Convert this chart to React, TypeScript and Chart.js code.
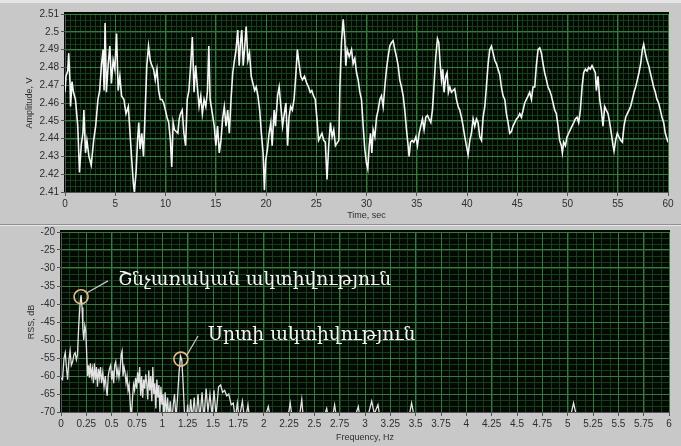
import React, { useEffect, useRef } from "react";
import { Chart, registerables } from "chart.js";

Chart.register(...registerables);

// ---------- data ----------
const timeTicks = [0, 5, 10, 15, 20, 25, 30, 35, 40, 45, 50, 55, 60];
const voltTicks = [2.41, 2.42, 2.43, 2.44, 2.45, 2.46, 2.47, 2.48, 2.49, 2.5, 2.51];
const freqTicks = [0, 0.25, 0.5, 0.75, 1, 1.25, 1.5, 1.75, 2, 2.25, 2.5, 2.75, 3, 3.25, 3.5, 3.75, 4, 4.25, 4.5, 4.75, 5, 5.25, 5.5, 5.75, 6];
const dbTicks = [-70, -65, -60, -55, -50, -45, -40, -35, -30, -25, -20];

const amplitudeTrace: [number, number][] = [
  [0, 2.466], [0.1, 2.475], [0.27, 2.478], [0.37, 2.488], [0.5, 2.471], [0.55, 2.458], [0.7, 2.472], [0.84, 2.466],
  [1.04, 2.462], [1.27, 2.447], [1.44, 2.421], [1.61, 2.436], [1.78, 2.443], [1.88, 2.456], [2.04, 2.432], [2.18, 2.439],
  [2.38, 2.43], [2.61, 2.425], [2.85, 2.439], [3.05, 2.447], [3.28, 2.462], [3.45, 2.467], [3.62, 2.481], [3.79, 2.49],
  [3.89, 2.467], [3.99, 2.505], [4.12, 2.466], [4.29, 2.481], [4.46, 2.492], [4.62, 2.471], [4.79, 2.484], [4.96, 2.479],
  [5.13, 2.499], [5.29, 2.467], [5.46, 2.475], [5.63, 2.464], [5.86, 2.462], [6.07, 2.454], [6.3, 2.458], [6.47, 2.443],
  [6.64, 2.428], [6.8, 2.415], [6.9, 2.41], [7.07, 2.421], [7.21, 2.438], [7.34, 2.449], [7.47, 2.434], [7.64, 2.443],
  [7.81, 2.43], [7.98, 2.456], [8.14, 2.481], [8.31, 2.492], [8.48, 2.484], [8.65, 2.481], [8.81, 2.479], [8.98, 2.473],
  [9.15, 2.479], [9.32, 2.467], [9.48, 2.462], [9.65, 2.462], [9.82, 2.46], [9.99, 2.456], [10.15, 2.452], [10.32, 2.449],
  [10.49, 2.439], [10.62, 2.424], [10.76, 2.449], [10.89, 2.445], [11.06, 2.444], [11.23, 2.443], [11.36, 2.451], [11.49, 2.454],
  [11.66, 2.456], [11.83, 2.443], [12.0, 2.436], [12.16, 2.462], [12.33, 2.467], [12.5, 2.481], [12.67, 2.497], [12.84, 2.466],
  [13.0, 2.481], [13.17, 2.469], [13.34, 2.458], [13.51, 2.464], [13.67, 2.454], [13.84, 2.462], [14.01, 2.458], [14.18, 2.467],
  [14.31, 2.492], [14.44, 2.462], [14.61, 2.456], [14.85, 2.447], [15.01, 2.436], [15.18, 2.447], [15.35, 2.432], [15.52, 2.439],
  [15.68, 2.451], [15.85, 2.458], [16.02, 2.447], [16.19, 2.456], [16.35, 2.443], [16.52, 2.462], [16.69, 2.477], [16.86, 2.484],
  [17.02, 2.49], [17.19, 2.501], [17.33, 2.481], [17.46, 2.494], [17.59, 2.501], [17.73, 2.481], [17.86, 2.49], [18.03, 2.503],
  [18.2, 2.484], [18.36, 2.488], [18.53, 2.475], [18.7, 2.471], [18.87, 2.467], [19.03, 2.469], [19.2, 2.464], [19.37, 2.456],
  [19.54, 2.443], [19.71, 2.432], [19.84, 2.411], [19.97, 2.428], [20.14, 2.434], [20.31, 2.443], [20.48, 2.449], [20.61, 2.436],
  [20.81, 2.456], [20.94, 2.447], [21.15, 2.464], [21.31, 2.469], [21.48, 2.458], [21.65, 2.447], [21.82, 2.454], [21.98, 2.46],
  [22.15, 2.436], [22.29, 2.452], [22.45, 2.458], [22.62, 2.456], [22.79, 2.462], [22.96, 2.475], [23.12, 2.49], [23.29, 2.482],
  [23.46, 2.475], [23.63, 2.473], [23.83, 2.475], [24.06, 2.471], [24.23, 2.469], [24.4, 2.466], [24.56, 2.467], [24.73, 2.464],
  [24.9, 2.462], [25.07, 2.451], [25.23, 2.439], [25.4, 2.441], [25.57, 2.443], [25.74, 2.439], [25.9, 2.438], [26.07, 2.417],
  [26.24, 2.436], [26.41, 2.449], [26.58, 2.441], [26.74, 2.445], [26.91, 2.436], [27.25, 2.439],
  [27.35, 2.469], [27.51, 2.494], [27.68, 2.507], [27.85, 2.495], [27.94, 2.481], [28.08, 2.49], [28.28, 2.486], [28.51, 2.49],
  [28.67, 2.482], [28.84, 2.485], [29.01, 2.477], [29.17, 2.473], [29.34, 2.466], [29.5, 2.462], [29.67, 2.447], [29.83, 2.434],
  [30.0, 2.426], [30.13, 2.423], [30.27, 2.436], [30.4, 2.443], [30.53, 2.432], [30.66, 2.445], [30.83, 2.441], [31.0, 2.452],
  [31.16, 2.456], [31.33, 2.462], [31.49, 2.464], [31.66, 2.458], [31.82, 2.469], [31.99, 2.479], [32.15, 2.486], [32.32, 2.492],
  [32.49, 2.494], [32.65, 2.495], [32.82, 2.49], [32.98, 2.486], [33.15, 2.481], [33.31, 2.473], [33.48, 2.469], [33.65, 2.464],
  [33.81, 2.456], [33.98, 2.445], [34.14, 2.436], [34.24, 2.43], [34.38, 2.438], [34.54, 2.439], [34.71, 2.438], [34.91, 2.441],
  [35.07, 2.436], [35.24, 2.443], [35.4, 2.447], [35.57, 2.451], [35.73, 2.445], [35.9, 2.452], [36.07, 2.453], [36.23, 2.451],
  [36.4, 2.449], [36.56, 2.456], [36.73, 2.471], [36.89, 2.486], [37.06, 2.496], [37.19, 2.494], [37.33, 2.482], [37.46, 2.473],
  [37.59, 2.479], [37.72, 2.466], [37.89, 2.475], [38.02, 2.477], [38.15, 2.466], [38.29, 2.469], [38.45, 2.466], [38.62, 2.467],
  [38.78, 2.468], [38.95, 2.462], [39.12, 2.458], [39.28, 2.456], [39.45, 2.452], [39.61, 2.447], [39.78, 2.441], [39.94, 2.436],
  [40.11, 2.431], [40.28, 2.439], [40.44, 2.443], [40.61, 2.451], [40.77, 2.447], [40.94, 2.451], [41.1, 2.449], [41.27, 2.441],
  [41.44, 2.439], [41.6, 2.452], [41.77, 2.458], [41.93, 2.469], [42.1, 2.482], [42.26, 2.49], [42.43, 2.492], [42.6, 2.488],
  [42.76, 2.484], [42.93, 2.482], [43.09, 2.479], [43.26, 2.476], [43.42, 2.469], [43.59, 2.464], [43.76, 2.462], [43.92, 2.454],
  [44.09, 2.449], [44.25, 2.443], [44.42, 2.444], [44.58, 2.447], [44.75, 2.449], [44.92, 2.451], [45.08, 2.452], [45.25, 2.454],
  [45.41, 2.452], [45.58, 2.456], [45.74, 2.46], [45.91, 2.462], [46.08, 2.464], [46.24, 2.466], [46.41, 2.462], [46.57, 2.469],
  [46.74, 2.469], [46.9, 2.481], [47.07, 2.49], [47.24, 2.491], [47.4, 2.488], [47.57, 2.482], [47.73, 2.477], [47.9, 2.473],
  [48.06, 2.469], [48.23, 2.467], [48.4, 2.464], [48.56, 2.46], [48.73, 2.456], [48.89, 2.454], [49.06, 2.447], [49.22, 2.439],
  [49.39, 2.436], [49.49, 2.432], [49.62, 2.438], [49.79, 2.436], [49.95, 2.441], [50.12, 2.443], [50.28, 2.445], [50.45, 2.447],
  [50.62, 2.449], [50.78, 2.451], [50.95, 2.452], [51.11, 2.449], [51.28, 2.456], [51.45, 2.469], [51.61, 2.477], [51.78, 2.479],
  [51.94, 2.478], [52.11, 2.48], [52.27, 2.479], [52.44, 2.481], [52.61, 2.479], [52.77, 2.477], [52.87, 2.467], [53.04, 2.475],
  [53.2, 2.462], [53.37, 2.456], [53.53, 2.447], [53.7, 2.458], [53.86, 2.456], [54.03, 2.454], [54.2, 2.449], [54.36, 2.443],
  [54.53, 2.436], [54.63, 2.433], [54.79, 2.439], [54.96, 2.443], [55.12, 2.441], [55.29, 2.439], [55.46, 2.438], [55.62, 2.447],
  [55.79, 2.452], [55.95, 2.454], [56.12, 2.456], [56.28, 2.458], [56.45, 2.462], [56.62, 2.466], [56.78, 2.469], [56.95, 2.473],
  [57.11, 2.477], [57.28, 2.482], [57.45, 2.49], [57.58, 2.493], [57.74, 2.488], [57.91, 2.484], [58.08, 2.481], [58.24, 2.477],
  [58.41, 2.473], [58.57, 2.469], [58.74, 2.466], [58.9, 2.462], [59.07, 2.46], [59.24, 2.456], [59.4, 2.452], [59.57, 2.449],
  [59.73, 2.443], [60.0, 2.438],
];

const spectrumTrace: [number, number][] = [
  [0.0, -60.5], [0.015, -61], [0.03, -55], [0.042, -53.5], [0.055, -58], [0.065, -61], [0.078, -55.5], [0.09, -53],
  [0.102, -57], [0.115, -56], [0.128, -54], [0.14, -53.5], [0.152, -55.5], [0.163, -54], [0.175, -46], [0.188, -40],
  [0.198, -37.5], [0.208, -41], [0.216, -47], [0.225, -50], [0.235, -46], [0.245, -47.5], [0.255, -55], [0.263, -60],
  [0.272, -57], [0.281, -60.5], [0.29, -56.5], [0.3, -60], [0.31, -58], [0.32, -62], [0.33, -56.5], [0.34, -61],
  [0.35, -57.5], [0.36, -63], [0.37, -58], [0.38, -60.5], [0.39, -57.5], [0.4, -62], [0.412, -59], [0.425, -63],
  [0.437, -60], [0.447, -63.5], [0.456, -65.5], [0.466, -60], [0.478, -58], [0.49, -57], [0.5, -61], [0.51, -58.5],
  [0.52, -62], [0.53, -57], [0.54, -56], [0.552, -60], [0.562, -58], [0.572, -60.5], [0.583, -58], [0.594, -54],
  [0.603, -53], [0.612, -60], [0.622, -57.5], [0.632, -59], [0.642, -62], [0.652, -60], [0.662, -64], [0.672, -62.5],
  [0.682, -67], [0.694, -72], [0.706, -66], [0.716, -62.5], [0.726, -64], [0.736, -60.5], [0.746, -63.5], [0.756, -59],
  [0.766, -62], [0.776, -57.5], [0.786, -65.5], [0.796, -60], [0.806, -66], [0.816, -61], [0.826, -63.5], [0.836, -59.5],
  [0.846, -62], [0.856, -66.5], [0.866, -58.5], [0.876, -64], [0.886, -60], [0.896, -67], [0.906, -57.5], [0.916, -65],
  [0.926, -62], [0.936, -69], [0.946, -61], [0.956, -66], [0.966, -62.5], [0.976, -70], [0.986, -63], [0.996, -68],
  [1.006, -65], [1.016, -72], [1.028, -64.5], [1.04, -71], [1.052, -66], [1.064, -72], [1.078, -67], [1.092, -73],
  [1.108, -68], [1.12, -65], [1.135, -72], [1.15, -66], [1.165, -59], [1.18, -54.5], [1.192, -55.5], [1.205, -62],
  [1.218, -70], [1.232, -74], [1.25, -68], [1.262, -73], [1.28, -66.5], [1.295, -72], [1.315, -66], [1.332, -73],
  [1.352, -65], [1.37, -72], [1.392, -64.5], [1.41, -72], [1.432, -63.5], [1.45, -70], [1.47, -65], [1.49, -71],
  [1.51, -64], [1.53, -71], [1.555, -63], [1.575, -62.5], [1.595, -64.5], [1.615, -64], [1.635, -65.5], [1.655, -65],
  [1.68, -68], [1.7, -67.5], [1.72, -72], [1.74, -67.5], [1.758, -72], [1.79, -67], [1.815, -73], [1.845, -68],
  [1.87, -74], [1.93, -77], [1.99, -74], [2.03, -70], [2.046, -68.5], [2.062, -71], [2.12, -77], [2.2, -75],
  [2.245, -70.5], [2.262, -67.5], [2.28, -71.5], [2.35, -72], [2.376, -66.5], [2.392, -72], [2.47, -77], [2.56, -74],
  [2.605, -70.5], [2.622, -69], [2.64, -72], [2.685, -70.5], [2.7, -68], [2.716, -71], [2.8, -77], [2.88, -73],
  [2.934, -68.5], [2.952, -72], [3.03, -71], [3.066, -67], [3.092, -70.5], [3.128, -68], [3.15, -72], [3.3, -77],
  [3.43, -72], [3.46, -67.5], [3.49, -72], [3.7, -77], [4.0, -76], [4.3, -77], [4.6, -76], [4.95, -75],
  [5.03, -71], [5.058, -67.5], [5.086, -71], [5.3, -76], [5.6, -77], [6.0, -76],
];

const noteLabels = ["Շնչառական ակտիվություն", "Սրտի ակտիվություն"];
const notePeaks: [number, number][] = [[0.198, -38], [1.183, -55.3]];
const noteTextAnchors: [number, number][] = [[0.5625, -33.3], [1.451, -48.6]];

// ---------- styles ----------
const FONT_FAMILY = '"Liberation Sans Narrow", "Liberation Sans", Arial, sans-serif';
const TEXT_COLOR = "#2e2e2e";
const AXIS_COLOR = "#555555";
const MAJOR_GRID = "#367a3e";
const MINOR_GRID = "#183d1c";

const plotBackdrop = {
  id: "plotBackdrop",
  beforeDraw(chart: any, _args: any, opts: any) {
    const { ctx, chartArea: a } = chart;
    const xs = chart.scales.x;
    const ys = chart.scales.y;
    ctx.save();
    ctx.fillStyle = "#030903";
    ctx.fillRect(a.left - 1, a.top - 2, a.right - a.left + 2, a.bottom - a.top + 2);
    ctx.strokeStyle = MINOR_GRID;
    ctx.lineWidth = 1;
    ctx.beginPath();
    const nx = Math.round((xs.max - xs.min) / opts.xMinor);
    for (let i = 0; i <= nx; i++) {
      const px = Math.round(xs.getPixelForValue(xs.min + i * opts.xMinor)) + 0.5;
      ctx.moveTo(px, a.top);
      ctx.lineTo(px, a.bottom);
    }
    const ny = Math.round((ys.max - ys.min) / opts.yMinor);
    for (let j = 0; j <= ny; j++) {
      const py = Math.round(ys.getPixelForValue(ys.min + j * opts.yMinor)) + 0.5;
      ctx.moveTo(a.left, py);
      ctx.lineTo(a.right, py);
    }
    ctx.stroke();
    ctx.restore();
  },
};

const peakCallouts = {
  id: "peakCallouts",
  afterDatasetsDraw(chart: any) {
    const { ctx } = chart;
    const xs = chart.scales.x;
    const ys = chart.scales.y;
    ctx.save();
    notePeaks.forEach(([f, db], i) => {
      const cx = xs.getPixelForValue(f);
      const cy = ys.getPixelForValue(db);
      const [tf, tdb] = noteTextAnchors[i];
      const tx = xs.getPixelForValue(tf);
      const ty = ys.getPixelForValue(tdb);
      ctx.strokeStyle = "#c8c8c8";
      ctx.lineWidth = 1.2;
      ctx.beginPath();
      ctx.moveTo(cx + 6, cy - 4);
      ctx.lineTo(tx - 10, ty + 1);
      ctx.stroke();
      ctx.strokeStyle = "#eab98c";
      ctx.lineWidth = 1.6;
      ctx.beginPath();
      ctx.arc(cx, cy, 7, 0, Math.PI * 2);
      ctx.stroke();
      ctx.fillStyle = "#f4f4f4";
      ctx.font = '18.7px "DejaVu Serif", serif';
      ctx.textBaseline = "middle";
      ctx.textAlign = "left";
      ctx.fillText(noteLabels[i], tx, ty);
    });
    ctx.restore();
  },
};

function buildScales(c: any) {
  const tickFont = { family: FONT_FAMILY, size: 10 };
  const titleFont = { family: FONT_FAMILY, size: 9 };
  return {
    x: {
      type: "linear",
      min: c.xTicks[0],
      max: c.xTicks[c.xTicks.length - 1],
      afterBuildTicks: (s: any) => {
        s.ticks = c.xTicks.map((v: number) => ({ value: v }));
      },
      afterFit: (s: any) => {
        s.height = c.xHeight;
      },
      grid: { color: MAJOR_GRID, lineWidth: 1, drawTicks: true, tickLength: 4, tickColor: AXIS_COLOR },
      border: { display: true, color: AXIS_COLOR, width: 1 },
      ticks: { autoSkip: false, maxRotation: 0, padding: 2, color: TEXT_COLOR, font: tickFont, callback: (v: any) => String(v) },
      title: { display: true, text: c.xTitle, color: TEXT_COLOR, font: titleFont, padding: { top: 0, bottom: 3 } },
    },
    y: {
      type: "linear",
      min: c.yTicks[0],
      max: c.yTicks[c.yTicks.length - 1],
      afterBuildTicks: (s: any) => {
        s.ticks = c.yTicks.map((v: number) => ({ value: v }));
      },
      afterFit: (s: any) => {
        s.width = c.yWidth;
      },
      grid: { color: MAJOR_GRID, lineWidth: 1, drawTicks: true, tickLength: 4, tickColor: AXIS_COLOR },
      border: { display: true, color: AXIS_COLOR, width: 1 },
      ticks: { autoSkip: false, padding: 2, color: TEXT_COLOR, font: tickFont, callback: (v: any) => String(v) },
      title: { display: true, text: c.yTitle, color: TEXT_COLOR, font: titleFont, padding: { top: c.yTitlePad, bottom: 0 } },
    },
  };
}

export default function App() {
  const topRef = useRef<HTMLCanvasElement>(null);
  const botRef = useRef<HTMLCanvasElement>(null);

  useEffect(() => {
    const top = new Chart(topRef.current as HTMLCanvasElement, {
      type: "line",
      data: {
        datasets: [
          {
            data: amplitudeTrace.map(([t, v]) => ({ x: t, y: v })),
            borderColor: "#f6f6f6",
            borderWidth: 1.6,
            pointRadius: 0,
            tension: 0,
          },
        ],
      },
      options: {
        responsive: false,
        animation: false,
        devicePixelRatio: 1,
        layout: { padding: { left: 8, top: 14, right: 13, bottom: 0 } },
        scales: buildScales({
          xTicks: timeTicks,
          yTicks: voltTicks,
          xHeight: 32,
          yWidth: 57,
          xTitle: "Time, sec",
          yTitle: "Amplitude, V",
          yTitlePad: 16,
        }) as any,
        plugins: {
          legend: { display: false },
          tooltip: { enabled: false },
          plotBackdrop: { xMinor: 0.5, yMinor: 0.01 / 3 },
        } as any,
      },
      plugins: [plotBackdrop],
    });

    const bot = new Chart(botRef.current as HTMLCanvasElement, {
      type: "line",
      data: {
        datasets: [
          {
            data: spectrumTrace.map(([f, db]) => ({ x: f, y: db })),
            borderColor: "#e2e2e2",
            borderWidth: 1.3,
            pointRadius: 0,
            tension: 0,
          },
        ],
      },
      options: {
        responsive: false,
        animation: false,
        devicePixelRatio: 1,
        layout: { padding: { left: 8, top: 8, right: 12, bottom: 0 } },
        scales: buildScales({
          xTicks: freqTicks,
          yTicks: dbTicks,
          xHeight: 34,
          yWidth: 53,
          xTitle: "Frequency, Hz",
          yTitle: "RSS, dB",
          yTitlePad: 18,
        }) as any,
        plugins: {
          legend: { display: false },
          tooltip: { enabled: false },
          plotBackdrop: { xMinor: 0.25 / 3, yMinor: 5 / 3 },
        } as any,
      },
      plugins: [plotBackdrop, peakCallouts],
    });

    return () => {
      top.destroy();
      bot.destroy();
    };
  }, []);

  return (
    <div
      style={{
        position: "fixed",
        left: 0,
        top: 0,
        width: 681,
        height: 446,
        background: "#c8c8c8",
        overflow: "hidden",
      }}
    >
      <div style={{ position: "absolute", left: 0, top: 0, width: 681, height: 3, background: "#e4e4e4" }} />
      <div style={{ position: "absolute", left: 0, top: 224, width: 681, height: 1, background: "#909090" }} />
      <div style={{ position: "absolute", left: 0, top: 225, width: 681, height: 1, background: "#e6e6e6" }} />
      <canvas ref={topRef} width={681} height={224} style={{ position: "absolute", left: 0, top: 0, display: "block" }} />
      <canvas ref={botRef} width={681} height={222} style={{ position: "absolute", left: 0, top: 224, display: "block" }} />
    </div>
  );
}
